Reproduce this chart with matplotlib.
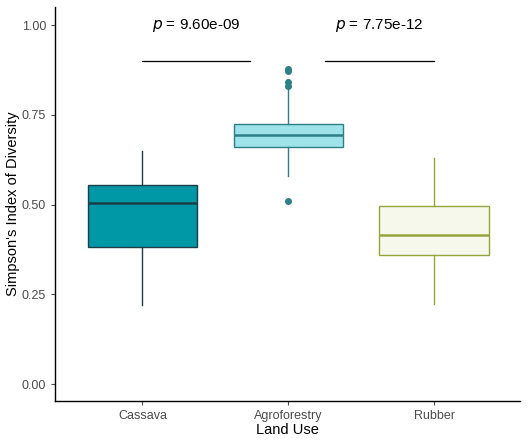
import matplotlib
matplotlib.use('Agg')
import matplotlib.pyplot as plt

plt.rcParams['font.family'] = ['Liberation Sans', 'DejaVu Sans']

# 数据
land_use = ['Cassava', 'Agroforestry', 'Rubber']
whislo = [0.220, 0.579, 0.223]
q1 = [0.382, 0.660, 0.359]
med = [0.504, 0.694, 0.415]
q3 = [0.554, 0.724, 0.496]
whishi = [0.649, 0.824, 0.630]
fliers = [[], [0.878, 0.872, 0.841, 0.830, 0.510], []]

fills = ['#0097A7', '#9EE2EA', '#F6F8EC']
edges = ['#1B3F46', '#2E8088', '#95A53C']

p_labels = ['9.60e-09', '7.75e-12']
brackets = [(1, 1.74), (2.25, 3)]
bracket_y = 0.90
label_y = 1.00

fig = plt.figure(figsize=(5.30, 4.46), dpi=100)
ax = fig.add_axes([0.1038, 0.1009, 0.8774, 0.883])

for i in range(3):
    st = [dict(med=med[i], q1=q1[i], q3=q3[i], whislo=whislo[i],
               whishi=whishi[i], fliers=fliers[i])]
    ax.bxp(st, positions=[i + 1], widths=0.75, patch_artist=True,
           showcaps=False,
           boxprops=dict(facecolor=fills[i], edgecolor=edges[i], linewidth=1.0),
           medianprops=dict(color=edges[i], linewidth=1.8),
           whiskerprops=dict(color=edges[i], linewidth=1.0),
           flierprops=dict(marker='o', markersize=4, markerfacecolor=edges[i],
                           markeredgecolor=edges[i]))

for (x0, x1), lab in zip(brackets, p_labels):
    ax.plot([x0, x1], [bracket_y, bracket_y], color='black', linewidth=0.9)
    ax.text((x0 + x1) / 2, label_y, '$p$ = ' + lab, ha='center', va='center',
            fontsize=11)

ax.set_xlim(0.4, 3.59)
ax.set_ylim(-0.047, 1.05)
ax.set_xticks([1, 2, 3])
ax.set_xticklabels(land_use)
ax.set_yticks([0, 0.25, 0.5, 0.75, 1.0])
ax.set_yticklabels(['0.00', '0.25', '0.50', '0.75', '1.00'])
ax.tick_params(colors='#4D4D4D', labelsize=9, length=3, width=0.8)
ax.spines['top'].set_visible(False)
ax.spines['right'].set_visible(False)
for s in ['left', 'bottom']:
    ax.spines[s].set_linewidth(1.0)
ax.set_xlabel('Land Use', fontsize=10.5, labelpad=1)
ax.set_ylabel("Simpson's Index of Diversity", fontsize=10.5, labelpad=1)

plt.savefig('out.png', dpi=100)
